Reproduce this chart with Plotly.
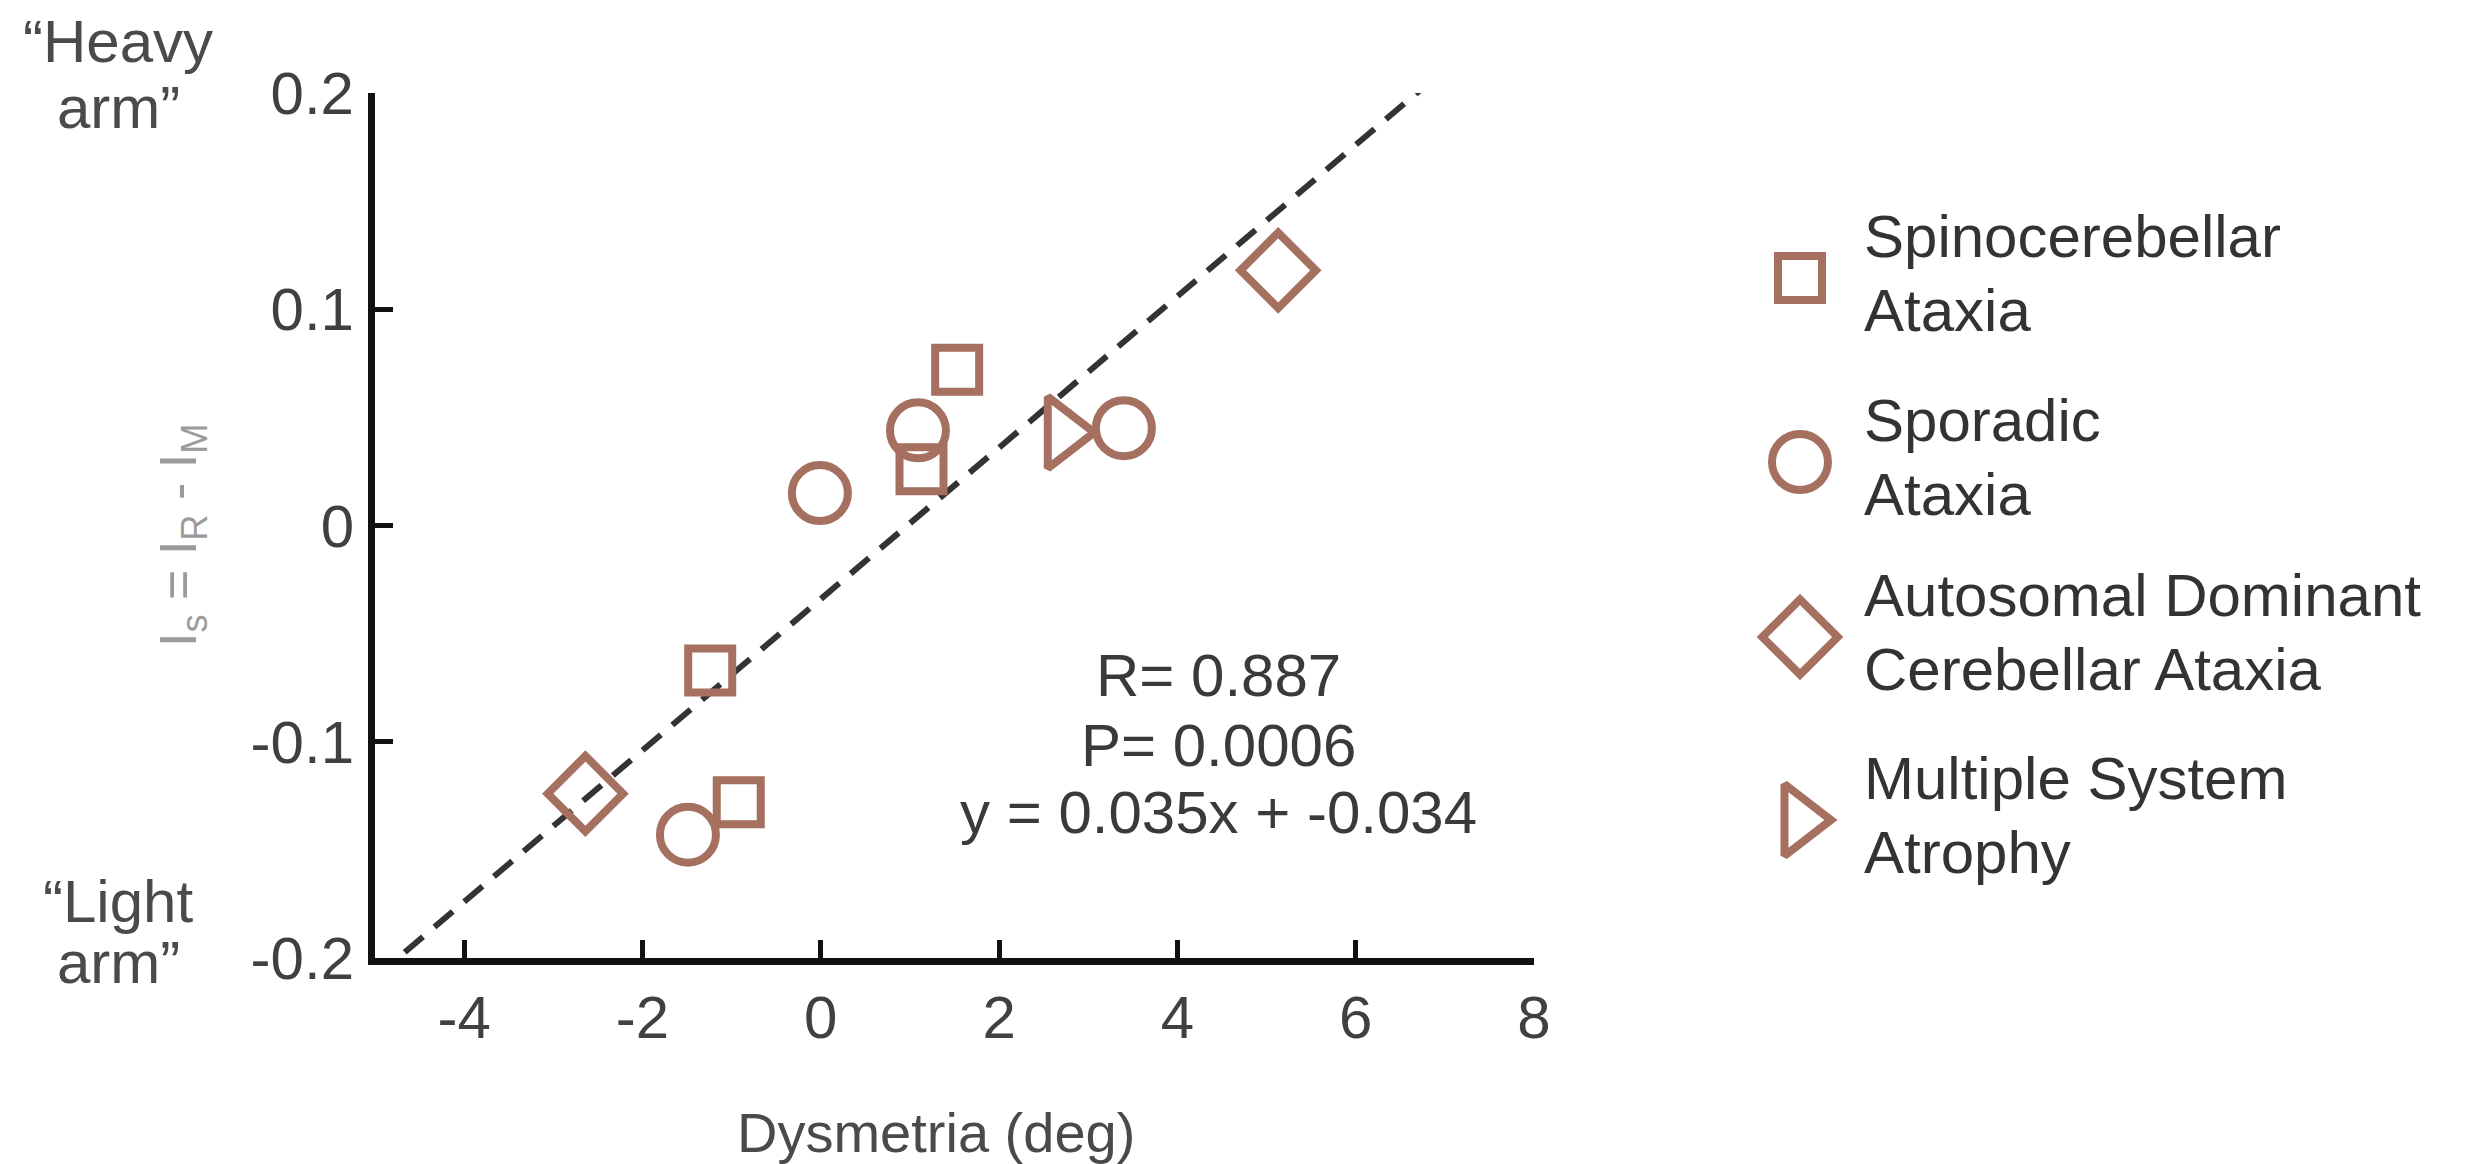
import plotly.graph_objects as go

W, H = 2487, 1164          # browser window
BODY = 8                   # default page margin around the plot div
FW, FH = W - BODY, H - BODY


def px(p):
    """screen x pixel -> paper fraction"""
    return (p - BODY) / FW


def py(p):
    """screen y pixel -> paper fraction"""
    return 1 - (p - BODY) / FH


# ---------------- data ----------------
group_names = ["Spinocerebellar Ataxia", "Sporadic Ataxia",
               "Autosomal Dominant Cerebellar Ataxia", "Multiple System Atrophy"]
group_label_lines = [["Spinocerebellar", "Ataxia"],
                     ["Sporadic", "Ataxia"],
                     ["Autosomal Dominant", "Cerebellar Ataxia"],
                     ["Multiple System", "Atrophy"]]

sca_x = [1.53, 1.13, -1.24, -0.92]
sca_y = [0.072, 0.026, -0.067, -0.128]
spor_x = [-0.01, 1.09, 3.40, -1.49]
spor_y = [0.015, 0.044, 0.045, -0.143]
adca_x = [5.13, -2.64]
adca_y = [0.118, -0.124]
msa_x = [2.72]
msa_y = [0.043]

fit_slope = 0.035
fit_intercept = -0.034
fit_x = [-5, 8]
stats_lines = ["R= 0.887", "P= 0.0006", "y = 0.035x + -0.034"]

x_tickvals = [-4, -2, 0, 2, 4, 6, 8]
x_ticktext = ["-4", "-2", "0", "2", "4", "6", "8"]
y_tickvals = [-0.2, -0.1, 0, 0.1, 0.2]
y_ticktext = ["-0.2", "-0.1", "0", "0.1", "0.2"]

# ---------------- style / layout ----------------
FONT = "Liberation Sans, Arial, sans-serif"
MCOL = "#a5705f"
TXT = "#404040"
symbols = ["square-open", "circle-open", "diamond-open", "triangle-right-open"]
msizes = [44, 56, 58, 62]
MLW = 8
legend_row_px = [278, 462, 637, 820]     # screen y of legend rows

xs = [sca_x, spor_x, adca_x, msa_x]
ys = [sca_y, spor_y, adca_y, msa_y]

fig = go.Figure()

fit_y = [fit_slope * v + fit_intercept for v in fit_x]
fig.add_trace(go.Scatter(x=fit_x, y=fit_y, mode="lines",
                         line=dict(color="#333333", width=6, dash="24px,15px"),
                         showlegend=False, hoverinfo="skip"))

for name, sx, sy, sym, ms in zip(group_names, xs, ys, symbols, msizes):
    fig.add_trace(go.Scatter(x=sx, y=sy, mode="markers", name=name,
                             marker=dict(symbol=sym, size=ms, color=MCOL,
                                         line=dict(width=MLW, color=MCOL)),
                             showlegend=False))

# custom legend on auxiliary pixel axes
for ry, sym, ms in zip(legend_row_px, symbols, msizes):
    fig.add_trace(go.Scatter(x=[0], y=[ry], xaxis="x2", yaxis="y2", mode="markers",
                             marker=dict(symbol=sym, size=ms, color=MCOL,
                                         line=dict(width=MLW, color=MCOL)),
                             showlegend=False, hoverinfo="skip"))

annotations = []
for ry, lines in zip(legend_row_px, group_label_lines):
    for off, t in zip([-42, 32], lines):
        annotations.append(dict(x=62, y=ry + off, xref="x2", yref="y2", text=t,
                                showarrow=False, xanchor="left", yanchor="middle",
                                font=dict(family=FONT, size=60, color="#333333")))

# statistics text
for yc, t in zip([675, 745, 812], stats_lines):
    annotations.append(dict(x=px(1218), y=py(yc), xref="paper", yref="paper",
                            text=t, showarrow=False, xanchor="center", yanchor="middle",
                            font=dict(family=FONT, size=60, color="#3a3a3a")))

# heavy / light arm labels
for yc, t in zip([41, 107, 901, 963], ["\u201cHeavy", "arm\u201d", "\u201cLight", "arm\u201d"]):
    annotations.append(dict(x=px(118), y=py(yc), xref="paper", yref="paper",
                            text=t, showarrow=False, xanchor="center", yanchor="middle",
                            font=dict(family=FONT, size=60, color="#4a4a4a")))

# axis titles
annotations.append(dict(x=px(936), y=py(1132), xref="paper", yref="paper",
                        text="Dysmetria (deg)", showarrow=False,
                        xanchor="center", yanchor="middle",
                        font=dict(family=FONT, size=56, color="#4a4a4a")))
annotations.append(dict(x=px(182), y=py(535), xref="paper", yref="paper",
                        text="I<sub>s</sub> = I<sub>R</sub> - I<sub>M</sub>", showarrow=False,
                        textangle=-90, xanchor="center", yanchor="middle",
                        font=dict(family=FONT, size=52, color="#9a9a9a")))

axis_common = dict(showline=True, linecolor="#111111", linewidth=7,
                   ticks="inside", ticklen=18, tickwidth=5, tickcolor="#111111",
                   showgrid=False, zeroline=False, automargin=False,
                   tickfont=dict(family=FONT, size=60, color=TXT))

fig.update_layout(
    template="none",
    width=FW, height=FH,
    margin=dict(l=0, r=0, t=0, b=0, pad=0, autoexpand=False),
    paper_bgcolor="white", plot_bgcolor="white",
    xaxis=dict(domain=[px(375), px(1534)], range=[-5, 8],
               tickvals=x_tickvals, ticktext=x_ticktext, anchor="y",
               ticklabelstandoff=1, **axis_common),
    yaxis=dict(domain=[py(958), py(93)], range=[-0.2, 0.2],
               tickvals=y_tickvals, ticktext=y_ticktext, anchor="x",
               ticklabelstandoff=2, **axis_common),
    xaxis2=dict(domain=[px(1700), 1], range=[-100, W - 1800], visible=False,
                anchor="y2", fixedrange=True, automargin=False),
    yaxis2=dict(domain=[0, 1], range=[H, BODY], visible=False,
                anchor="x2", fixedrange=True, automargin=False),
    annotations=annotations,
    showlegend=False,
)

fig.write_html("out.html")
